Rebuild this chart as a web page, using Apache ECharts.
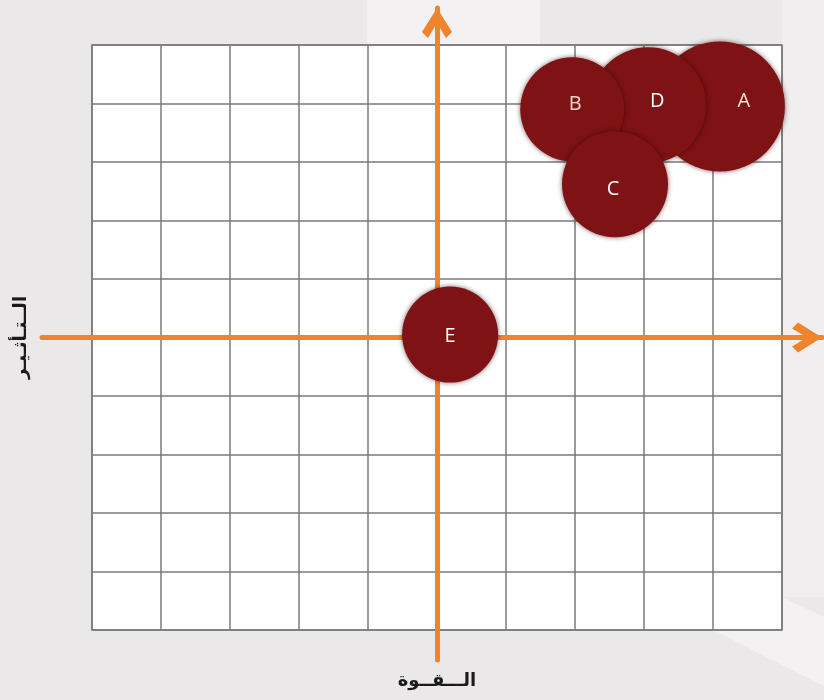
<!DOCTYPE html>
<html>
<head>
<meta charset="utf-8">
<script src="https://cdn.jsdelivr.net/npm/echarts@6/dist/echarts.min.js"></script>
<style>
  html, body { margin: 0; padding: 0; background: #ebe8e9; }
  #chart { width: 824px; height: 700px; }
</style>
</head>
<body>
<div id="chart"></div>
<script>
// bubble data: name, power (x), influence (y), bubble diameter
const names = ['A', 'D', 'B', 'C', 'E'];
const xValues = [4.10, 3.06, 1.96, 2.58, 0.19];
const yValues = [3.95, 3.97, 3.90, 2.62, 0.05];
const sizes = [130, 116, 104, 106, 96];
const labelColors = ['#f6e3dc', '#ffffff', '#f3d2c8', '#ffffff', '#ffffff'];
const labelOffsets = [[24, -5], [9, -4], [3, -5], [-2, 5], [0, 2]];

const xName = 'الـــقــوة';
const yName = 'الــتـأثـيـر';

const orange = '#f0842c';
const chevron = 'path://M50,0 L100,80 L80,100 L50,50 L20,100 L0,80 Z';

// main 10x10 grid
const g0 = { left: 92, right: 42, top: 45, bottom: 70 };
// orange axes extend past the grid, same scale and same zero
const g1 = { left: 42, right: 2, top: 8, bottom: 40 };
const pxX = (824 - g0.left - g0.right) / 10;
const pxY = (700 - g0.top - g0.bottom) / 10;
const zeroX = g0.left + 5 * pxX;
const zeroY = g0.top + 5 * pxY;

const chart = echarts.init(document.getElementById('chart'));

chart.setOption({
    backgroundColor: '#ebe8e9',
    animation: false,
    graphic: [
        { type: 'rect', z: -10, shape: { x: 367, y: 0, width: 173, height: 45 }, style: { fill: '#f3f1f2' } },
        { type: 'rect', z: -10, shape: { x: 782, y: 0, width: 42, height: 597 }, style: { fill: '#f1eeef' } },
        { type: 'polygon', z: -10, shape: { points: [[782, 597], [824, 617], [824, 686], [713, 630], [782, 630]] }, style: { fill: '#f3f1f2' } }
    ],
    grid: [
        Object.assign({ show: true, backgroundColor: '#ffffff', borderColor: '#7a7a7a', borderWidth: 1.5 }, g0),
        Object.assign({ show: false }, g1)
    ],
    xAxis: [
        {
            gridIndex: 0, type: 'value', min: -5, max: 5, interval: 1,
            name: xName, nameLocation: 'middle', nameGap: 42,
            nameTextStyle: { fontFamily: 'DejaVu Sans', fontWeight: 'bold', fontSize: 18, color: '#1a1a1a' },
            axisLine: { show: false }, axisTick: { show: false }, axisLabel: { show: false },
            splitLine: { show: true, lineStyle: { color: '#7a7a7a', width: 1.5 } }
        },
        {
            gridIndex: 1, type: 'value', z: 1,
            min: -(zeroX - g1.left) / pxX, max: (824 - g1.right - zeroX) / pxX,
            axisLine: {
                show: true, onZero: true,
                symbol: ['none', chevron], symbolSize: [32, 30], symbolOffset: [0, -15],
                lineStyle: { color: orange, width: 5 }
            },
            axisTick: { show: false }, axisLabel: { show: false }, splitLine: { show: false }
        }
    ],
    yAxis: [
        {
            gridIndex: 0, type: 'value', min: -5, max: 5, interval: 1,
            name: yName, nameLocation: 'middle', nameGap: 62,
            nameTextStyle: { fontFamily: 'DejaVu Sans', fontWeight: 'bold', fontSize: 18, color: '#1a1a1a' },
            axisLine: { show: false }, axisTick: { show: false }, axisLabel: { show: false },
            splitLine: { show: true, lineStyle: { color: '#7a7a7a', width: 1.5 } }
        },
        {
            gridIndex: 1, type: 'value', z: 1,
            min: -(700 - g1.bottom - zeroY) / pxY, max: (zeroY - g1.top) / pxY,
            axisLine: {
                show: true, onZero: true,
                symbol: ['none', chevron], symbolSize: [32, 30], symbolOffset: [0, -15],
                lineStyle: { color: orange, width: 5 }
            },
            axisTick: { show: false }, axisLabel: { show: false }, splitLine: { show: false }
        }
    ],
    series: [
        {
            type: 'scatter',
            xAxisIndex: 0,
            yAxisIndex: 0,
            z: 5,
            symbolSize: function (val) { return val[2]; },
            itemStyle: {
                color: '#7e1214',
                opacity: 1,
                shadowBlur: 5,
                shadowColor: 'rgba(40, 0, 0, 0.6)'
            },
            emphasis: { disabled: true },
            label: {
                show: true,
                position: 'inside',
                formatter: '{b}',
                fontFamily: 'Open Sans',
                fontSize: 20,
                color: '#ffffff'
            },
            data: names.map((n, i) => ({
                name: n,
                value: [xValues[i], yValues[i], sizes[i]],
                label: { color: labelColors[i], offset: labelOffsets[i] }
            }))
        }
    ]
});
</script>
</body>
</html>
